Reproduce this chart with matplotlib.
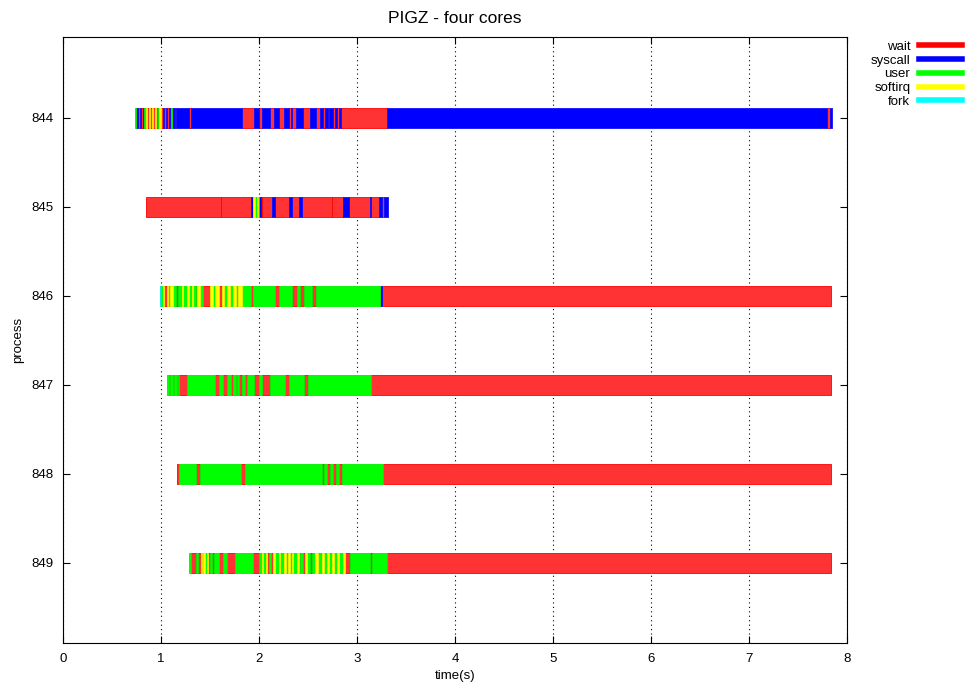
import matplotlib
matplotlib.use('Agg')
import matplotlib.pyplot as plt
from matplotlib.lines import Line2D

plt.rcParams.update({
    'font.family': ['Liberation Sans', 'DejaVu Sans'],
    'font.size': 9.5,
    'axes.linewidth': 0.8,
})

# ── States and colours ───────────────────────────────────────────────────────
STATES = ['wait', 'syscall', 'user', 'softirq', 'fork']
CODES = {'r': 'wait', 'b': 'syscall', 'g': 'user', 'y': 'softirq', 'c': 'fork'}
FACE = {'wait': '#ff3333', 'syscall': '#0000ff', 'user': '#00ff00',
        'softirq': '#ffff00', 'fork': '#00ffff'}
EDGE = {'wait': '#ff0000', 'syscall': '#1010ff', 'user': '#00f000',
        'softirq': '#f0f000', 'fork': '#00e0e0'}
LEGEND = {'wait': '#ff0000', 'syscall': '#0000ff', 'user': '#00ff00',
          'softirq': '#ffff00', 'fork': '#00ffff'}

PROCS = [844, 845, 846, 847, 848, 849]

# state change times (s); last value is the end of the trace
T_844 = [0.735, 0.745, 0.765, 0.786, 0.796, 0.816, 0.827, 0.842, 0.857, 0.878,
         0.888, 0.908, 0.918, 0.939, 0.949, 0.969, 0.980, 1.000, 1.020, 1.031,
         1.051, 1.061, 1.082, 1.092, 1.102, 1.112, 1.143, 1.158, 1.286, 1.306,
         1.827, 1.949, 2.000, 2.031, 2.112, 2.156, 2.204, 2.258, 2.303, 2.323,
         2.340, 2.378, 2.452, 2.520, 2.582, 2.622, 2.656, 2.673, 2.704, 2.717,
         2.758, 2.776, 2.799, 2.813, 2.840, 3.309, 7.796, 7.823, 7.844]
S_844 = "g b r b r b g y r y r y r y r g y r b r b r b r g b r b r b " \
        "r b r b r b r b r b r b r b r b r b r b r b r b r b r b"

T_845 = [0.847, 1.609, 1.918, 1.934, 1.959, 1.977, 1.993, 2.000, 2.017, 2.034,
         2.133, 2.163, 2.309, 2.337, 2.408, 2.436, 2.742, 2.860, 2.921, 3.133,
         3.146, 3.228, 3.255, 3.276, 3.319]
S_845 = "r r b y g y g b r r b r b r b r r b r b r b r b"

T_846 = [0.990, 1.000, 1.017, 1.031, 1.058, 1.075, 1.092, 1.126, 1.153, 1.177,
         1.211, 1.228, 1.262, 1.289, 1.313, 1.330, 1.354, 1.371, 1.398, 1.425,
         1.500, 1.527, 1.551, 1.592, 1.619, 1.643, 1.670, 1.704, 1.738, 1.765,
         1.789, 1.823, 1.918, 1.939, 2.163, 2.204, 2.340, 2.384, 2.418, 2.459,
         2.541, 2.582, 3.235, 3.252, 7.837]
S_846 = "c g y r y g y g r g y g y g y g r y g r y g y r y g y g y g y " \
        "g r g r g r g r g r g b r"

T_847 = [1.064, 1.078, 1.092, 1.119, 1.133, 1.160, 1.173, 1.187, 1.262, 1.551,
         1.592, 1.636, 1.670, 1.711, 1.738, 1.765, 1.779, 1.799, 1.827, 1.861,
         1.881, 1.952, 1.997, 2.031, 2.112, 2.265, 2.303, 2.459, 2.500, 3.143,
         7.837]
S_847 = "g r g r g r g r g r g r g r g r g r g r g r g r g r g r g r"

T_848 = [1.160, 1.181, 1.354, 1.398, 1.813, 1.857, 2.640, 2.663, 2.691, 2.724,
         2.752, 2.783, 2.816, 2.844, 3.268, 7.837]
S_848 = "r g r g r g r g r g r g r g r"

T_849 = [1.289, 1.306, 1.354, 1.381, 1.405, 1.415, 1.432, 1.449, 1.466, 1.483,
         1.500, 1.524, 1.544, 1.592, 1.630, 1.677, 1.755, 1.942, 2.000, 2.027,
         2.044, 2.068, 2.085, 2.102, 2.119, 2.139, 2.163, 2.201, 2.214, 2.255,
         2.276, 2.299, 2.316, 2.337, 2.350, 2.384, 2.405, 2.418, 2.446, 2.466,
         2.486, 2.520, 2.537, 2.571, 2.605, 2.640, 2.663, 2.691, 2.718, 2.745,
         2.769, 2.793, 2.819, 2.860, 2.878, 2.929, 3.133, 3.150, 3.309, 7.837]
S_849 = "g r g r y r y g y r g r g r g r g r g y g y r g r y g y g y g " \
        "y g y g y r g r y g r g y g y g y g y g y g y r g r g r"

TIMES = {844: T_844, 845: T_845, 846: T_846, 847: T_847, 848: T_848, 849: T_849}
SEQS = {844: S_844, 845: S_845, 846: S_846, 847: S_847, 848: S_848, 849: S_849}

BAR_H = 0.22

fig = plt.figure(figsize=(9.72, 6.86), dpi=100)
ax = fig.add_axes([0.0648, 0.0627, 0.8066, 0.8834])

for p in PROCS:
    t = TIMES[p]
    codes = SEQS[p].split()
    for st in STATES:
        ranges = [(t[i], t[i + 1] - t[i]) for i, c in enumerate(codes)
                  if CODES[c] == st]
        if ranges:
            ax.broken_barh(ranges, (p - BAR_H / 2, BAR_H),
                           facecolors=FACE[st], edgecolors=EDGE[st],
                           linewidth=0.6, zorder=3)

ax.set_xlim(0, 8)
ax.set_ylim(849.9, 843.09)
ax.set_xticks(range(0, 9))
ax.set_yticks(PROCS)
ax.set_yticklabels([str(p) for p in PROCS])
ax.tick_params(direction='in', top=True, right=True, length=5, width=0.8,
               labelsize=9.5, pad=7)
ax.xaxis.grid(True, color='black', linestyle=(0, (1, 3)), linewidth=0.8)
ax.set_axisbelow(True)

ax.set_title('PIGZ - four cores', fontsize=12.5, pad=10)
ax.set_xlabel('time(s)', fontsize=9.5, labelpad=4)
ax.set_ylabel('process', fontsize=9.5, labelpad=5)

handles = [Line2D([0], [0], color=LEGEND[s], lw=4) for s in STATES]
fig.legend(handles, STATES, loc='upper right',
           bbox_to_anchor=(969 / 972, 1 - 34 / 686), frameon=False,
           markerfirst=False, handlelength=3.3, handletextpad=0.65,
           labelspacing=0.12, borderpad=0, fontsize=9.5)

fig.savefig('out.png', dpi=100)
